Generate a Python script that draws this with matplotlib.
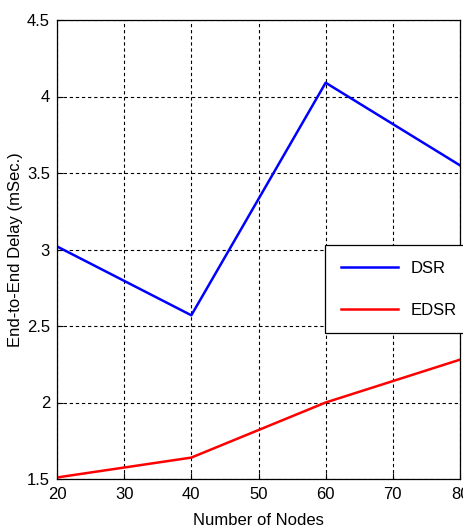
import matplotlib
matplotlib.use('Agg')
import matplotlib.pyplot as plt

nodes = [20, 40, 60, 80]
dsr_delay = [3.02, 2.57, 4.09, 3.55]
edsr_delay = [1.51, 1.64, 2.00, 2.28]

x_ticks = [20, 30, 40, 50, 60, 70, 80]
y_ticks = [1.5, 2, 2.5, 3, 3.5, 4, 4.5]
y_tick_labels = ['1.5', '2', '2.5', '3', '3.5', '4', '4.5']

plt.rcParams['font.family'] = ['Liberation Sans', 'DejaVu Sans']
plt.rcParams['font.size'] = 12

fig = plt.figure(figsize=(4.63, 5.30), dpi=100)
ax = fig.add_axes([57 / 463, 1 - 479 / 530, 403 / 463, 459 / 530])

ax.plot(nodes, dsr_delay, color=(0, 0, 1), lw=1.8, label='DSR')
ax.plot(nodes, edsr_delay, color=(1, 0, 0), lw=1.8, label='EDSR')

ax.set_xlim(20, 80)
ax.set_ylim(1.5, 4.5)
ax.set_xticks(x_ticks)
ax.set_yticks(y_ticks)
ax.set_yticklabels(y_tick_labels)
ax.tick_params(direction='in', length=4, width=0.8, colors='black', labelsize=12)
ax.tick_params(axis='x', pad=6)
ax.tick_params(axis='y', pad=5)
ax.grid(True, color='black', linestyle=(0, (3, 2.5)), linewidth=0.8)
for s in ax.spines.values():
    s.set_linewidth(0.9)

ax.set_xlabel('Number of Nodes', fontsize=12, labelpad=8)
ax.set_ylabel('End-to-End Delay (mSec.)', fontsize=12, labelpad=3)

# legend frame sits on the x=60 grid line, like the MATLAB original
leg = ax.legend(loc='upper left', bbox_to_anchor=(268 / 403, 1 - 225 / 459),
                borderaxespad=0, fancybox=False, framealpha=1, edgecolor='black',
                handlelength=3.4, handletextpad=0.8, labelspacing=1.6,
                borderpad=0.95, fontsize=12)
leg.get_frame().set_linewidth(0.9)

fig.savefig('out.png', dpi=100)
